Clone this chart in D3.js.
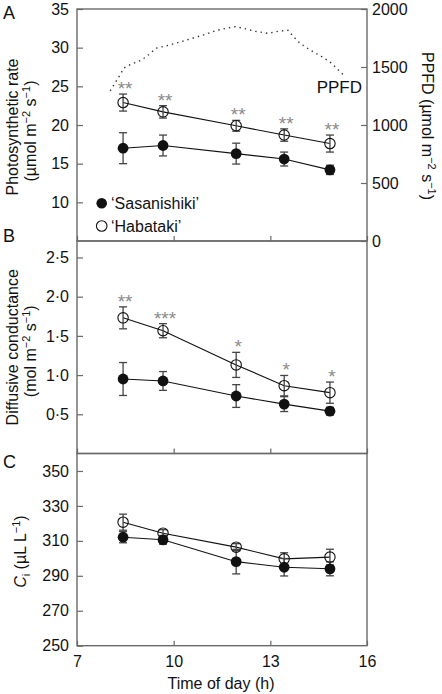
<!DOCTYPE html>
<html><head><meta charset="utf-8">
<script src="https://cdnjs.cloudflare.com/ajax/libs/d3/7.8.5/d3.min.js"></script>
<style>
html,body{margin:0;padding:0;background:#fff;}
svg text{font-family:"Liberation Sans",Arial,Helvetica,sans-serif;fill:#111;}
</style></head>
<body>
<svg id="chart" width="442" height="694"></svg>
<script>
// ---- data ----
const hours = [8.43, 9.67, 11.94, 13.43, 14.85];
const seriesNames = ["\u2018Sasanishiki\u2019", "\u2018Habataki\u2019"];

const photoSas = [17.0, 17.35, 16.3, 15.6, 14.2];
const photoSasErr = [2.0, 1.35, 1.35, 0.9, 0.6];
const photoHab = [22.9, 21.7, 19.9, 18.7, 17.6];
const photoHabErr = [1.1, 0.8, 0.7, 0.8, 1.1];
const photoStars = ["**", "**", "**", "**", "**"];

const condSas = [0.95, 0.925, 0.733, 0.63, 0.54];
const condSasErr = [0.21, 0.12, 0.145, 0.095, 0.05];
const condHab = [1.73, 1.566, 1.13, 0.865, 0.776];
const condHabErr = [0.14, 0.09, 0.16, 0.13, 0.135];
const condStars = ["**", "***", "*", "*", "*"];

const ciSas = [312.1, 310.6, 298.1, 294.9, 294.0];
const ciSasErr = [3.2, 2.5, 7.0, 5.0, 4.0];
const ciHab = [320.7, 314.4, 306.4, 299.7, 300.7];
const ciHabErr = [4.6, 2.0, 2.0, 3.5, 4.5];

const ppfdHours = [8.03, 8.34, 8.45, 8.65, 8.96, 9.17, 9.32, 9.48, 9.84, 10.2, 10.61, 11.02, 11.33, 11.59, 11.9, 12.21, 12.52, 12.93, 13.24, 13.55, 13.71, 13.91, 14.22, 14.58, 14.89, 15.1, 15.29];
const ppfdValues = [1295, 1434, 1491, 1520, 1554, 1592, 1630, 1664, 1687, 1716, 1750, 1785, 1816, 1831, 1848, 1831, 1808, 1790, 1808, 1816, 1764, 1707, 1649, 1592, 1535, 1477, 1428];

const xTicks = [7, 10, 13, 16];
const photoTicks = [10, 15, 20, 25, 30, 35];
const ppfdTicks = [0, 500, 1000, 1500, 2000];
const condTicks = [0.5, 1.0, 1.5, 2.0, 2.5];
const ciTicks = [250, 270, 290, 310, 330, 350];

// ---- layout ----
const svg = d3.select("#chart");
const L = 77, R = 367;
const x = d3.scaleLinear().domain([7, 16]).range([L, R]);
const axisColor = "#6a6a6a";
const FS = 16;

const panels = [
  {key:"A", top:9, bottom:241, domain:[5,35], ticks:photoTicks, fmt:d3.format("d"),
   sas:photoSas, sasErr:photoSasErr, hab:photoHab, habErr:photoHabErr, stars:photoStars,
   label:["Photosynthetic rate", "(\u00B5mol m|\u22122| s|\u22121|)"]},
  {key:"B", top:241, bottom:453.5, domain:[0,2.71], ticks:condTicks, fmt:d=>d3.format(".1f")(d).replace(".", "\u00B7"),
   sas:condSas, sasErr:condSasErr, hab:condHab, habErr:condHabErr, stars:condStars,
   label:["Diffusive conductance", "(mol m|\u22122| s|\u22121|)"]},
  {key:"C", top:453.5, bottom:645.7, domain:[250,360], ticks:ciTicks, fmt:d3.format("d"),
   sas:ciSas, sasErr:ciSasErr, hab:ciHab, habErr:ciHabErr, stars:null,
   label:null}
];

function addRich(textSel, str){
  const parts = str.split("|");
  parts.forEach((p,i)=>{
    if(i%2===1){
      textSel.append("tspan").attr("dy",-6).attr("font-size",11).text(p);
    } else {
      const t = textSel.append("tspan").text(p);
      if(i>0) t.attr("dy",6);
    }
  });
}

panels.forEach(p=>{
  const y = d3.scaleLinear().domain(p.domain).range([p.bottom, p.top]);
  const g = svg.append("g");

  const la = g.append("g").attr("transform",`translate(${L},0)`)
    .call(d3.axisLeft(y).tickValues(p.ticks).tickSize(-6).tickPadding(8).tickFormat(p.fmt));
  la.select(".domain").remove();
  la.selectAll("line").attr("stroke",axisColor).attr("stroke-width",1.2);
  la.selectAll("text").attr("font-size",FS).attr("fill","#111").attr("font-family","Liberation Sans, Arial, sans-serif");

  const ba = g.append("g").attr("transform",`translate(0,${p.bottom})`)
    .call(d3.axisBottom(x).tickValues(xTicks).tickSize(-5).tickPadding(10)
      .tickFormat(p.key==="C" ? d3.format("d") : ""));
  ba.select(".domain").remove();
  ba.selectAll("line").attr("stroke",axisColor).attr("stroke-width",1.2);
  ba.selectAll("text").attr("font-size",FS).attr("fill","#111").attr("font-family","Liberation Sans, Arial, sans-serif");

  g.append("rect").attr("x",L).attr("y",p.top).attr("width",R-L).attr("height",p.bottom-p.top)
    .attr("fill","none").attr("stroke",axisColor).attr("stroke-width",1.4);

  svg.append("text").attr("x",3).attr("y",({A:19,B:242,C:468})[p.key])
    .attr("font-size",18).text(p.key);

  if(p.key==="A"){
    const yr = d3.scaleLinear().domain([0,2000]).range([p.bottom,p.top]);
    const ra = g.append("g").attr("transform",`translate(${R},0)`)
      .call(d3.axisRight(yr).tickValues(ppfdTicks).tickSize(-6).tickPadding(5).tickFormat(d3.format("d")));
    ra.select(".domain").remove();
    ra.selectAll("line").attr("stroke",axisColor).attr("stroke-width",1.2);
    ra.selectAll("text").attr("font-size",FS).attr("fill","#111").attr("font-family","Liberation Sans, Arial, sans-serif");
    const ppfd = ppfdHours.map((h,i)=>[h, ppfdValues[i]]);
    g.append("path").datum(ppfd)
      .attr("d", d3.line().x(d=>x(d[0])).y(d=>yr(d[1])).curve(d3.curveLinear))
      .attr("fill","none").attr("stroke","#333").attr("stroke-width",1.4)
      .attr("stroke-dasharray","1.4,4");
    g.append("text").attr("x",362).attr("y",93).attr("text-anchor","end")
      .attr("font-size",FS+1).text("PPFD");
    const rt = svg.append("text").attr("transform",`translate(422,${(p.top+p.bottom)/2+1}) rotate(90)`)
      .attr("text-anchor","middle").attr("font-size",FS);
    addRich(rt, "PPFD (\u00B5mol m|\u22122| s|\u22121|)");
  }

  const line = d3.line().x((d,i)=>x(hours[i])).y(d=>y(d));
  [p.sas, p.hab].forEach(s=>{
    g.append("path").datum(s).attr("d",line).attr("fill","none")
      .attr("stroke","#111").attr("stroke-width",1.1);
  });

  [[p.sas,p.sasErr],[p.hab,p.habErr]].forEach(([s,e])=>{
    const eb = g.append("g").attr("stroke","#444").attr("stroke-width",1.3);
    s.forEach((v,i)=>{
      const cx = x(hours[i]), y1 = y(v+e[i]), y2 = y(v-e[i]);
      eb.append("line").attr("x1",cx).attr("x2",cx).attr("y1",y1).attr("y2",y2);
      eb.append("line").attr("x1",cx-4).attr("x2",cx+4).attr("y1",y1).attr("y2",y1);
      eb.append("line").attr("x1",cx-4).attr("x2",cx+4).attr("y1",y2).attr("y2",y2);
    });
  });

  g.selectAll(".hab").data(p.hab).enter().append("circle")
    .attr("cx",(d,i)=>x(hours[i])).attr("cy",d=>y(d)).attr("r",5.2)
    .attr("fill","none").attr("stroke","#111").attr("stroke-width",1.1);
  g.selectAll(".sas").data(p.sas).enter().append("circle")
    .attr("cx",(d,i)=>x(hours[i])).attr("cy",d=>y(d)).attr("r",5.4)
    .attr("fill","#111");

  if(p.stars){
    g.selectAll(".star").data(p.stars).enter().append("text")
      .attr("x",(d,i)=>x(hours[i])+2).attr("y",(d,i)=>y(p.hab[i]+p.habErr[i])+1)
      .attr("text-anchor","middle").attr("font-size",19)
      .style("fill","#8a8a8a").text(d=>d);
  }

  if(p.label){
    const cy = (p.top+p.bottom)/2 + (p.key==="A"?2:0);
    svg.append("text").attr("transform",`translate(18,${cy}) rotate(-90)`)
      .attr("text-anchor","middle").attr("font-size",FS).text(p.label[0]);
    const t2 = svg.append("text").attr("transform",`translate(36,${cy+4}) rotate(-90)`)
      .attr("text-anchor","middle").attr("font-size",FS);
    addRich(t2, p.label[1]);
  } else {
    const t = svg.append("text").attr("transform",`translate(26,${(p.top+p.bottom)/2+2}) rotate(-90)`)
      .attr("text-anchor","middle").attr("font-size",FS);
    t.append("tspan").attr("font-style","italic").text("C");
    t.append("tspan").attr("font-size",11).attr("dy",4).text("i");
    t.append("tspan").attr("dy",-4).text(" (\u00B5L L");
    t.append("tspan").attr("font-size",11).attr("dy",-6).text("\u22121");
    t.append("tspan").attr("dy",6).text(")");
  }
});

const legend = svg.append("g");
seriesNames.forEach((n,i)=>{
  const ly = 203.3 + i*22.7;
  const c = legend.append("circle").attr("cx",101.7).attr("cy",ly).attr("r",5.3);
  if(i===0) c.attr("fill","#111");
  else c.attr("fill","none").attr("stroke","#111").attr("stroke-width",1.1);
  legend.append("text").attr("x",111).attr("y",ly+6).attr("font-size",FS).text(n);
});

svg.append("text").attr("x",221).attr("y",689).attr("text-anchor","middle")
  .attr("font-size",FS).text("Time of day (h)");
</script>
</body></html>
